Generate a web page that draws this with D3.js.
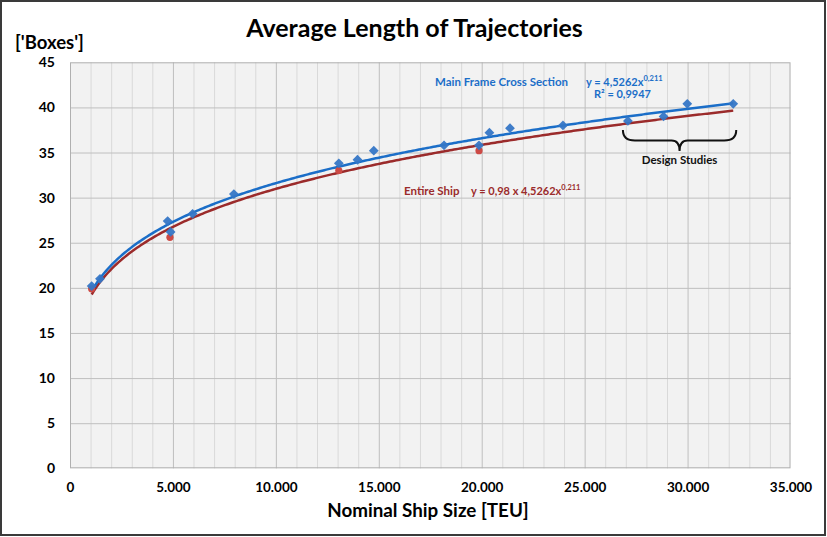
<!DOCTYPE html>
<html><head><meta charset="utf-8">
<script src="https://cdn.jsdelivr.net/npm/d3@7"></script>
<style>
html,body{margin:0;padding:0;background:#fff;}
svg{display:block;font-family:Lato,"Open Sans",sans-serif;}
</style></head>
<body><svg id="chart" width="827" height="537"></svg>
<script>
// ---- data ----
const mainFrameTEU = [1053,1456,4743,4888,5956,7961,13058,13966,14757,18170,19869,20374,21374,23947,27102,28835,29985,32218];
const mainFrameBoxes = [20.2,21.0,27.4,26.2,28.2,30.4,33.8,34.2,35.2,35.8,35.8,37.2,37.7,38.0,38.5,39.0,40.4,40.4];
const entireShipTEU = [1050,4854,13058,19869];
const entireShipBoxes = [19.9,25.6,33.0,35.2];
const trendCoef = [4.5262, 0.211];   // y = a * x^b (Main Frame Cross Section)
const entireShipFactor = [0.98];      // Entire Ship: y = 0.98 * a * x^b
const xTicks = [0,5000,10000,15000,20000,25000,30000,35000];
const yTicks = [0,5,10,15,20,25,30,35,40,45];
const designStudiesTEU = [27102,32218];

const svg = d3.select("#chart");
const W = 827, H = 537;
const x = d3.scaleLinear().domain([0,35000]).range([70,790.5]);
const y = d3.scaleLinear().domain([0,45]).range([468.3,62.3]);
const loc = d3.formatLocale({decimal:",", thousands:".", grouping:[3], currency:["",""]});
const fmt = loc.format(",");

// outer frame
svg.append("rect").attr("x",1).attr("y",1).attr("width",W-3).attr("height",H-3)
  .attr("fill","#fff").attr("stroke","#3a3a3a").attr("stroke-width",2);

// plot background
svg.append("rect").attr("x",x(0)).attr("y",y(45)).attr("width",x(35000)-x(0)).attr("height",y(0)-y(45))
  .attr("fill","#f2f2f2");

// minor vertical grid
const minor = d3.range(1000,35000,1000).filter(v=>v%5000!==0);
svg.append("g").selectAll("line").data(minor).join("line")
  .attr("x1",d=>x(d)+0.5).attr("x2",d=>x(d)+0.5).attr("y1",y(45)).attr("y2",y(0))
  .attr("stroke","#d9d9d9").attr("stroke-width",1);
// major vertical grid
svg.append("g").selectAll("line").data(xTicks.slice(1,-1)).join("line")
  .attr("x1",d=>x(d)+0.5).attr("x2",d=>x(d)+0.5).attr("y1",y(45)).attr("y2",y(0))
  .attr("stroke","#bfbfbf").attr("stroke-width",1);
// horizontal grid
svg.append("g").selectAll("line").data(yTicks.slice(1,-1)).join("line")
  .attr("x1",x(0)).attr("x2",x(35000)).attr("y1",d=>y(d)+0.5).attr("y2",d=>y(d)+0.5)
  .attr("stroke","#bfbfbf").attr("stroke-width",1);
// plot border
svg.append("rect").attr("x",x(0)+0.5).attr("y",y(45)+0.5).attr("width",x(35000)-x(0)-1).attr("height",y(0)-y(45)-1)
  .attr("fill","none").attr("stroke","#b0b0b0").attr("stroke-width",1);

// axes (labels only, via d3 axis)
const xAxis = d3.axisBottom(x).tickValues(xTicks).tickFormat(fmt).tickSize(0).tickPadding(14);
const gx = svg.append("g").attr("transform",`translate(0,${y(0)})`).call(xAxis);
gx.select(".domain").remove();
gx.selectAll("text").attr("font-family","Lato").attr("font-weight","bold").attr("font-size","13.5px").attr("fill","#000");

const yAxis = d3.axisLeft(y).tickValues(yTicks).tickSize(0).tickPadding(15);
const gy = svg.append("g").attr("transform",`translate(${x(0)},0)`).call(yAxis);
gy.select(".domain").remove();
gy.selectAll("text").attr("font-family","Lato").attr("font-weight","bold").attr("font-size","14px").attr("fill","#000");

// trendlines
const [a,b] = trendCoef;
const xs = d3.range(d3.min(mainFrameTEU), d3.max(mainFrameTEU)+1, 100).concat([d3.max(mainFrameTEU)]);
const line = d3.line().x(d=>x(d[0])).y(d=>y(d[1])).curve(d3.curveLinear);
svg.append("path").attr("d", line(xs.map(v=>[v, entireShipFactor[0]*a*Math.pow(v,b)])))
  .attr("fill","none").attr("stroke","#9b2b2b").attr("stroke-width",2.5);
svg.append("path").attr("d", line(xs.map(v=>[v, a*Math.pow(v,b)])))
  .attr("fill","none").attr("stroke","#1b6ec8").attr("stroke-width",2.5);

// points: entire ship (red circles)
svg.append("g").selectAll("circle").data(entireShipTEU.map((d,i)=>[d,entireShipBoxes[i]])).join("circle")
  .attr("cx",d=>x(d[0])).attr("cy",d=>y(d[1])).attr("r",3.6).attr("fill","#cd4a45");
// points: main frame (blue diamonds)
const diamond = d3.symbol().type(d3.symbolSquare).size(48);
svg.append("g").selectAll("path").data(mainFrameTEU.map((d,i)=>[d,mainFrameBoxes[i]])).join("path")
  .attr("d",diamond).attr("transform",d=>`translate(${x(d[0])},${y(d[1])}) rotate(45)`)
  .attr("fill","#3576c6").attr("opacity",0.95);

// title & axis titles
svg.append("text").attr("x",414.5).attr("y",37).attr("text-anchor","middle")
  .attr("font-weight","bold").attr("font-size","25px").attr("fill","#000").text("Average Length of Trajectories");
svg.append("text").attr("x",15).attr("y",49)
  .attr("font-weight","bold").attr("font-size","18.5px").attr("fill","#000").text("['Boxes']");
svg.append("text").attr("x",428).attr("y",517).attr("text-anchor","middle")
  .attr("font-weight","bold").attr("font-size","18.8px").attr("fill","#000").text("Nominal Ship Size [TEU]");

// annotations
const blue = "#1b6ec8", red = "#9b2b2b";
const fs = "11.5px", fe = "11px";
svg.append("text").attr("x",435).attr("y",85.5).attr("font-weight","bold").attr("font-size",fs).attr("fill",blue)
  .text("Main Frame Cross Section");
const eq1 = svg.append("text").attr("x",586).attr("y",85.5).attr("font-weight","bold").attr("font-size",fe).attr("fill",blue);
eq1.append("tspan").text("y = 4,5262x");
eq1.append("tspan").attr("dy",-5).attr("font-size","7.5px").text("0,211");
svg.append("text").attr("x",594).attr("y",97.5).attr("font-weight","bold").attr("font-size",fe).attr("fill",blue)
  .text("R² = 0,9947");

svg.append("text").attr("x",404).attr("y",195).attr("font-weight","bold").attr("font-size",fs).attr("fill",red)
  .text("Entire Ship");
const eq2 = svg.append("text").attr("x",471).attr("y",195).attr("font-weight","bold").attr("font-size",fe).attr("fill",red);
eq2.append("tspan").text("y = 0,98 x\u00A04,5262x");
eq2.append("tspan").attr("dy",-5).attr("font-size","7.5px").text("0,211");

// Design Studies brace
const bx0 = x(designStudiesTEU[0]) - 5, bx1 = x(designStudiesTEU[1]) + 3;
const bm = (bx0+bx1)/2, bt = 130, bh = 140.5, bp = 151;
const brace = `M${bx0},${bt} Q${bx0},${bh} ${bx0+12},${bh} L${bm-8},${bh} Q${bm},${bh} ${bm},${bp}
  Q${bm},${bh} ${bm+8},${bh} L${bx1-12},${bh} Q${bx1},${bh} ${bx1},${bt}`;
svg.append("path").attr("d",brace).attr("fill","none").attr("stroke","#111").attr("stroke-width",2);
svg.append("text").attr("x",bm).attr("y",164).attr("text-anchor","middle").attr("font-weight","bold")
  .attr("font-size",fs).attr("fill","#111").text("Design Studies");
</script></body></html>
